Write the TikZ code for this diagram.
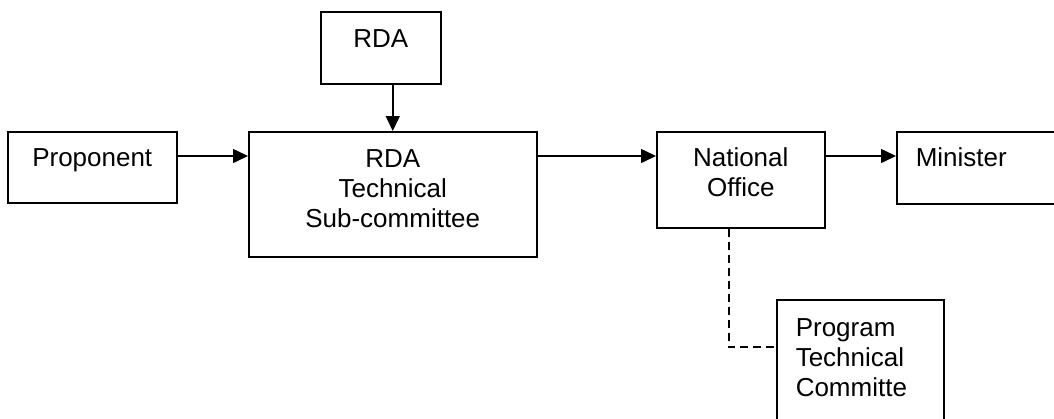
\documentclass[tikz,border=0pt]{standalone}
\usepackage{fontspec}
\setmainfont{Liberation Sans}
\usetikzlibrary{arrows.meta, positioning}

\tikzset{
    box/.style={draw, line width=1.5pt, anchor=north west, inner ysep=0pt, inner xsep=19pt,
        font=\fontsize{26}{30}\selectfont},
    flow/.style={line width=1.5pt, -{Triangle[length=15pt, width=14pt]}},
    link/.style={line width=1.5pt, dash pattern=on 8pt off 5pt}
}

\begin{document}
\begin{tikzpicture}[x=1pt, y=-1pt]
            \useasboundingbox (0,0) rectangle (1054,418);
            \clip (0,0) rectangle (1054,418);
            \node[box, text width=82pt, align=center, text height=36pt, text depth=36pt] (rda) at (320,11) {RDA};
            \node[box, text width=131pt, align=center, text height=35pt, text depth=36pt] (prop) at (7,131) {Proponent};
            \node[box, text width=250pt, align=center, text height=36pt, text depth=89pt] (sub) at (248,131) {RDA\\Technical\\Sub-committee};
            \node[box, text width=130pt, align=center, text height=35pt, text depth=61pt] (nat) at (656,131) {National\\Office};
            \node[box, text width=162pt, align=left, text height=35pt, text depth=37pt] (mini) at (896,131) {Minister};
            \node[box, text width=129pt, align=left, text height=37pt, text depth=140pt] (prog) at (776,299) {Program\\Technical\\Committe};
            \draw[flow] (rda.south -| sub.north) -- (sub.north);
            \draw[flow] ([yshift=-25pt]prop.north east) -- ([yshift=-25pt]sub.north west);
            \draw[flow] ([yshift=-25pt]sub.north east) -- ([yshift=-25pt]nat.north west);
            \draw[flow] ([yshift=-25pt]nat.north east) -- ([yshift=-25pt]mini.north west);
            \draw[link] ([xshift=-12pt]nat.south) |- ([yshift=-48pt]prog.north west);
\end{tikzpicture}
\end{document}
